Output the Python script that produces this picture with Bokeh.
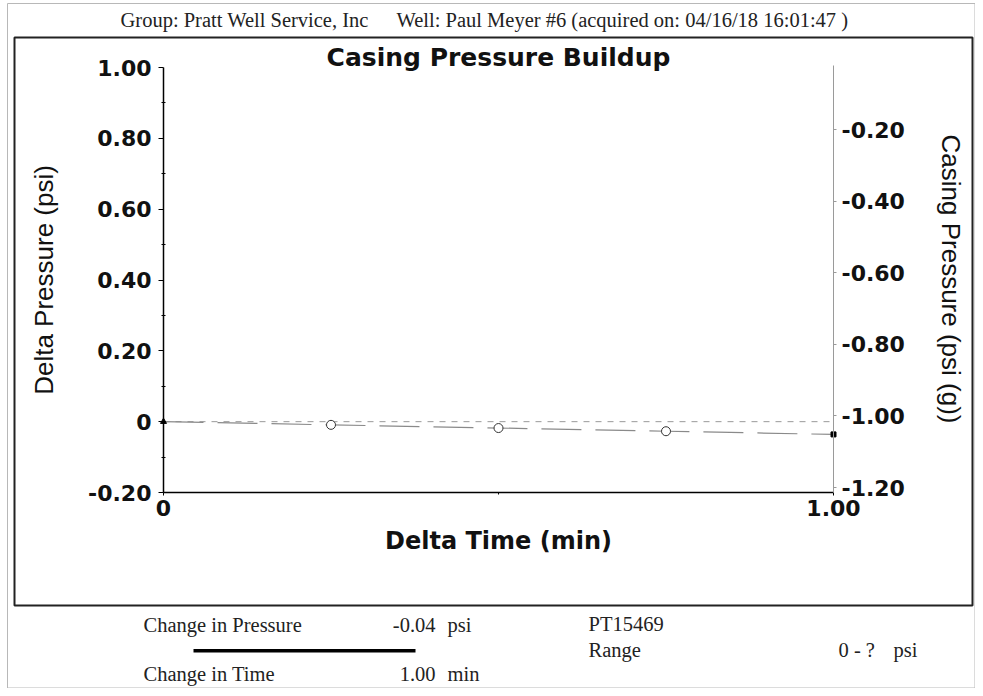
from bokeh.plotting import figure
from bokeh.models import (Range1d, LinearAxis, FixedTicker, Label, BoxAnnotation,
                          CustomJSTickFormatter)
from bokeh.embed import file_html
from bokeh.resources import INLINE

# ---------------- data ----------------
delta_time = [0.0, 0.25, 0.5, 0.75, 1.0]
delta_pressure = [0.0, -0.009, -0.018, -0.027, -0.036]
zero_time = [0.0, 1.0]
zero_pressure = [0.0, 0.0]
left_ticks = [-0.2, 0.0, 0.2, 0.4, 0.6, 0.8, 1.0]
left_minor = [-0.1, 0.1, 0.3, 0.5, 0.7, 0.9]
right_ticks = [-1.2, -1.0, -0.8, -0.6, -0.4, -0.2]
x_ticks = [0.0, 1.0]
x_minor = [0.5]

header_group = "Group: Pratt Well Service, Inc"
header_well = "Well: Paul Meyer #6 (acquired on: 04/16/18 16:01:47 )"
title_text = "Casing Pressure Buildup"
change_pressure = "-0.04"
change_time = "1.00"
sensor = "PT15469"
range_text = "0 - ?"

# ---------------- layout (canvas pixels) ----------------
W, H = 975, 688
FL, FR, FT, FB = 163, 833, 67, 492      # data area: x 0..1, y -0.2..1.0
PXX = FR - FL                            # px per x unit
PXY = (FB - FT) / 1.2                    # px per left-y unit
R_PX, R_REF_Y = 358.0, 487.0             # right axis: px per unit, canvas y of -1.2

def dx(cx):
    return (cx - FL) / PXX

def dy(cy):
    return -0.2 + (FB - cy) / PXY

def ry(cy):
    return -1.2 + (R_REF_Y - cy) / R_PX

p = figure(width=W, height=H, output_backend="svg", toolbar_location=None,
           x_range=Range1d(dx(0), dx(W)), y_range=Range1d(dy(H), dy(0)),
           x_axis_location=None, y_axis_location=None, title=None,
           min_border=0)
p.min_border_left = p.min_border_right = p.min_border_top = p.min_border_bottom = 0
p.outline_line_color = None
p.grid.visible = False
p.background_fill_color = "white"
p.border_fill_color = "white"

p.extra_y_ranges = {"casing": Range1d(ry(H), ry(0))}

fmt_left = CustomJSTickFormatter(code="return Math.abs(tick) < 1e-9 ? '0' : tick.toFixed(2);")
fmt_right = CustomJSTickFormatter(code="return tick.toFixed(2);")

def style_axis(ax):
    ax.major_label_text_font = "DejaVu Sans"
    ax.major_label_text_font_style = "bold"
    ax.major_label_text_font_size = "22px"
    ax.major_label_text_color = "#111111"
    ax.axis_label_text_color = "#111111"

yl = LinearAxis(ticker=FixedTicker(ticks=left_ticks, minor_ticks=left_minor),
                formatter=fmt_left, axis_label="Delta Pressure (psi)",
                fixed_location=0.0, bounds=(-0.2, 1.0))
style_axis(yl)
yl.axis_line_color = "black"
yl.axis_line_width = 1.5
yl.major_tick_out = 5
yl.major_tick_in = 0
yl.minor_tick_out = 2
yl.minor_tick_in = 2
yl.major_label_standoff = 7
yl.axis_label_text_font = "Liberation Sans"
yl.axis_label_text_font_style = "normal"
yl.axis_label_text_font_size = "26px"
yl.axis_label_standoff = 26
p.add_layout(yl, "left")

yr = LinearAxis(y_range_name="casing",
                ticker=FixedTicker(ticks=right_ticks, minor_ticks=[]),
                formatter=fmt_right, axis_label="Casing Pressure (psi (g))",
                fixed_location=1.0, bounds=(ry(FB), ry(65)))
style_axis(yr)
yr.axis_line_color = "#9a9a9a"
yr.axis_line_width = 1
yr.major_tick_out = 3
yr.major_tick_in = 0
yr.major_tick_line_color = "#9a9a9a"
yr.major_label_standoff = 5
yr.axis_label_text_font = "Liberation Sans"
yr.axis_label_text_font_style = "normal"
yr.axis_label_text_font_size = "26px"
yr.axis_label_standoff = 28
p.add_layout(yr, "right")

xb = LinearAxis(ticker=FixedTicker(ticks=x_ticks, minor_ticks=x_minor),
                formatter=fmt_left, axis_label="Delta Time (min)",
                fixed_location=-0.2, bounds=(0.0, 1.0))
style_axis(xb)
xb.axis_line_color = "black"
xb.axis_line_width = 1.5
xb.major_tick_out = 3
xb.major_tick_in = 0
xb.minor_tick_out = 2
xb.minor_tick_in = 0
xb.major_label_standoff = 4
xb.axis_label_text_font = "DejaVu Sans"
xb.axis_label_text_font_style = "bold"
xb.axis_label_text_font_size = "24px"
xb.axis_label_standoff = 8
p.add_layout(xb, "below")

# ---------------- glyphs ----------------
p.line(zero_time, zero_pressure, line_color="#999999", line_dash="6 6", line_width=1)
p.line(delta_time, delta_pressure, line_color="#8a8a8a", line_dash="40 14", line_width=1.2)
p.scatter(delta_time[1:-1], delta_pressure[1:-1], marker="circle", size=9,
          fill_color="white", line_color="#333333", line_width=1)
p.scatter(delta_time[:1], delta_pressure[:1], marker="triangle", size=6, color="black")
p.scatter(delta_time[-1:], delta_pressure[-1:], marker="square", size=5, color="black")

# ---------------- frames, title, header and footer ----------------
def box(l, t, r, b, **kw):
    p.add_layout(BoxAnnotation(left=dx(l), right=dx(r), top=dy(t), bottom=dy(b), **kw))

box(7, 3, 974.5, 687.5, fill_alpha=0, line_color="#b8b8b8", line_alpha=1, line_width=1)
box(14, 37, 972, 605, fill_alpha=0, line_color="#222222", line_alpha=1, line_width=2)
box(193, 648.5, 415, 652, fill_color="black", fill_alpha=1, line_color=None)

serif = dict(text_font="Liberation Serif", text_font_size="20.5px",
             text_color="#222222", text_baseline="alphabetic")

def lab(text, cx, cy, align="left", **kw):
    d = dict(serif)
    d.update(kw)
    p.add_layout(Label(x=dx(cx), y=dy(cy), text=text, text_align=align, **d))

lab(header_group, 120, 19.5)
lab(header_well, 396, 19.5)
lab(title_text, 498, 57, align="center", text_font="DejaVu Sans",
    text_font_style="bold", text_font_size="25px", text_color="#111111")

lab("Change in Pressure", 143, 624)
lab(change_pressure, 435, 624, align="right")
lab("psi", 447, 624)
lab(sensor, 588, 623)
lab("Range", 588, 649.5)
lab(range_text, 838, 649.5)
lab("psi", 893, 649.5)
lab("Change in Time", 143, 673)
lab(change_time, 435, 673, align="right")
lab("min", 447, 673)

with open("out.html", "w") as f:
    f.write(file_html(p, INLINE))
